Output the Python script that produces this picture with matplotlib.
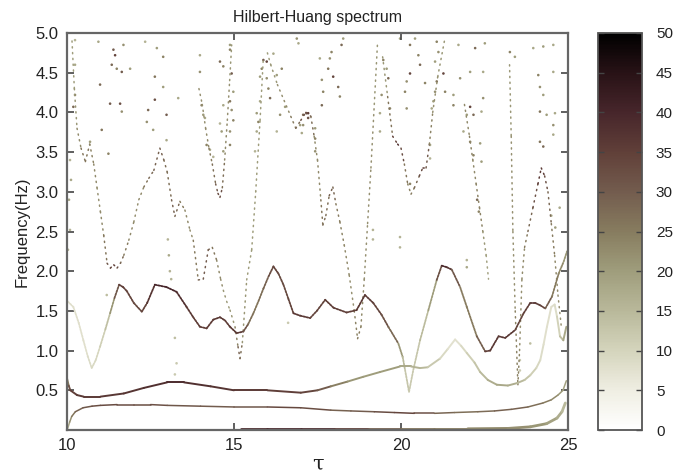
import numpy as np
import matplotlib
matplotlib.use("Agg")
import matplotlib.pyplot as plt
from matplotlib.collections import LineCollection
from matplotlib.colors import LinearSegmentedColormap, Normalize
from matplotlib.cm import ScalarMappable

plt.rcParams['font.family'] = ['Liberation Sans', 'DejaVu Sans']

# ---------------- data: instantaneous frequency tracks (tau, Hz, amplitude) ----------------
# lowest component (sits on the floor)
c1_tau = [15.2, 16.0, 17.0, 18.0, 19.0, 20.0, 21.0, 22.0, 23.2, 23.87, 24.36, 24.67, 24.82, 24.92]
c1_freq = [0.015, 0.015, 0.015, 0.015, 0.015, 0.015, 0.015, 0.015, 0.02, 0.04, 0.08, 0.15, 0.23, 0.34]
c1_amp = [38, 40, 40, 38, 32, 26, 26, 24, 22, 22, 20, 18, 16, 14]

# ~0.3 Hz component
c2_tau = [10.02, 10.08, 10.14, 10.25, 10.48, 10.75, 11.0, 11.5, 12.0, 12.5, 13.0, 14.0, 15.0, 16.0,
          17.0, 17.9, 18.5, 19.2, 19.8, 20.4, 21.0, 21.6, 22.3, 22.8, 23.3, 23.8, 24.25, 24.5, 24.7,
          24.85, 24.95]
c2_freq = [0.02, 0.1, 0.17, 0.23, 0.28, 0.3, 0.31, 0.32, 0.32, 0.32, 0.31, 0.3, 0.29, 0.29, 0.28,
           0.25, 0.24, 0.23, 0.22, 0.21, 0.21, 0.22, 0.23, 0.24, 0.26, 0.29, 0.34, 0.38, 0.44, 0.5, 0.62]
c2_amp = [16, 20, 24, 28, 30, 32, 33, 33, 33, 32, 32, 30, 30, 32, 35, 30, 28, 32, 34, 34, 30, 27,
          27, 28, 30, 28, 26, 24, 22, 20, 18]

# ~0.5 Hz component
c3_tau = [10.0, 10.05, 10.1, 10.3, 10.5, 11.0, 11.7, 12.3, 13.0, 13.5, 14.3, 15.0, 16.0, 17.0,
          17.5, 17.9, 18.4, 18.87, 19.37, 19.97, 20.3, 20.57, 20.8, 21.17, 21.4, 21.62, 21.8, 21.97,
          22.2, 22.37, 22.6, 22.87, 23.2, 23.47, 23.7, 23.87, 24.05, 24.17, 24.27, 24.37, 24.5,
          24.6, 24.67, 24.76, 24.86, 24.95]
c3_freq = [0.65, 0.56, 0.5, 0.44, 0.42, 0.42, 0.46, 0.53, 0.6, 0.6, 0.55, 0.5, 0.5, 0.47, 0.5,
           0.55, 0.61, 0.67, 0.73, 0.8, 0.8, 0.78, 0.79, 0.9, 1.02, 1.14, 1.06, 0.97, 0.85, 0.73,
           0.63, 0.57, 0.56, 0.59, 0.63, 0.69, 0.78, 0.88, 1.08, 1.3, 1.55, 1.58, 1.43, 1.18,
           1.13, 1.3]
c3_amp = [20, 30, 34, 36, 36, 36, 37, 37, 39, 39, 37, 37, 35, 35, 33, 27, 22, 20, 20, 20, 16, 16,
          14, 10, 8, 7, 8, 10, 12, 14, 16, 18, 18, 16, 14, 12, 10, 9, 8, 8, 8, 8, 9, 12, 16, 20]

# ~1.5 Hz component
c4_tau = [10.02, 10.19, 10.35, 10.49, 10.62, 10.74, 10.86, 10.99, 11.15, 11.29,
          11.42, 11.56, 11.68, 11.79, 12.0, 12.24, 12.4, 12.63, 12.98, 13.28,
          13.58, 13.78, 13.98, 14.18, 14.38, 14.58, 14.73, 14.88, 15.08, 15.28,
          15.42, 15.58, 15.73, 15.88, 16.03, 16.18, 16.33, 16.48, 16.63, 16.78,
          16.98, 17.28, 17.48, 17.73, 17.98, 18.37, 18.67, 18.92, 19.17, 19.42,
          19.62, 19.92, 20.05, 20.12, 20.24, 20.37, 20.57, 20.82, 21.07, 21.22,
          21.37, 21.52, 21.77, 21.97, 22.27, 22.52, 22.67, 22.92, 23.12, 23.42,
          23.67, 23.87, 24.02, 24.17, 24.32, 24.52, 24.72, 24.87, 24.97]
c4_freq = [1.62, 1.55, 1.35, 1.13, 0.93, 0.78, 0.88, 1.05, 1.27, 1.47,
           1.66, 1.83, 1.8, 1.75, 1.6, 1.49, 1.6, 1.83, 1.8, 1.74,
           1.55, 1.42, 1.3, 1.28, 1.39, 1.42, 1.38, 1.3, 1.22, 1.24,
           1.33, 1.47, 1.62, 1.78, 1.93, 2.06, 1.97, 1.83, 1.65, 1.47,
           1.44, 1.41, 1.5, 1.64, 1.54, 1.48, 1.51, 1.7, 1.6, 1.45,
           1.3, 1.09, 0.92, 0.76, 0.48, 0.76, 1.13, 1.51, 1.89, 2.07,
           2.05, 2.02, 1.8, 1.55, 1.18, 0.99, 1.0, 1.18, 1.16, 1.26,
           1.47, 1.6, 1.6, 1.57, 1.53, 1.68, 1.97, 2.12, 2.25]
c4_amp = [8, 8, 8, 8, 8, 9, 9, 10, 12, 16,
          26, 35, 35, 35, 33, 33, 35, 39, 41, 39,
          37, 35, 35, 35, 35, 37, 35, 35, 37, 35,
          28, 26, 26, 28, 30, 35, 33, 33, 33, 35,
          37, 35, 33, 35, 35, 35, 35, 37, 35, 33,
          30, 26, 16, 13, 12, 12, 13, 16, 24, 39,
          39, 35, 26, 24, 26, 33, 37, 35, 37, 35,
          33, 37, 37, 35, 33, 26, 24, 22, 20]

# upper, fast-varying components (dotted traces)
u1_tau = [10.15, 10.22, 10.3, 10.42, 10.55, 10.68, 10.8, 10.9, 11.0, 11.1,
          11.2, 11.3, 11.4, 11.5, 11.6, 11.7, 11.85, 12.0, 12.15, 12.3,
          12.45, 12.6, 12.78, 12.9, 13.0, 13.13, 13.23, 13.38, 13.53, 13.68,
          13.78, 13.93, 14.08, 14.23, 14.35, 14.48, 14.6, 14.68, 14.78, 14.88,
          15.03, 15.12, 15.18, 15.25, 15.38, 15.53, 15.65, 15.78, 15.88]
u1_freq = [4.9, 4.3, 3.8, 3.55, 3.38, 3.6, 3.35, 3.05, 2.75, 2.45,
           2.1, 2.04, 2.08, 2.04, 2.1, 2.2, 2.39, 2.62, 2.9, 3.06,
           3.17, 3.27, 3.55, 3.4, 3.25, 2.9, 2.69, 2.88, 2.77, 2.52,
           2.39, 1.89, 1.9, 2.27, 2.3, 2.14, 1.9, 1.76, 1.62, 1.51,
           1.3, 1.05, 0.9, 1.1, 1.89, 2.27, 3.0, 3.9, 4.7]
u1_amp = [20, 20, 22, 24, 28, 24, 24, 22, 22, 24,
          28, 34, 34, 36, 30, 26, 24, 22, 22, 24,
          28, 28, 30, 28, 26, 28, 30, 26, 24, 22,
          22, 28, 30, 30, 28, 24, 22, 22, 20, 20,
          22, 26, 32, 22, 20, 20, 20, 20, 20]

u2_tau = [16.0, 16.1, 16.3, 16.5, 16.7, 16.85, 17.0, 17.15, 17.3, 17.4, 17.5, 17.6, 17.66, 17.75,
          17.85, 17.96, 18.05, 18.17, 18.3, 18.45, 18.6, 18.7, 18.8, 18.9, 19.0, 19.1, 19.2, 19.3]
u2_freq = [4.75, 4.6, 4.35, 4.15, 3.95, 3.8, 3.9, 4.0, 3.95, 3.7, 3.4, 2.9, 2.58, 2.7,
           2.95, 3.06, 2.85, 2.62, 2.33, 1.95, 1.5, 1.15, 1.3, 1.9, 2.6, 3.3, 4.1, 4.9]
u2_amp = [20, 20, 22, 22, 24, 26, 30, 34, 30, 24, 22, 24, 28, 26,
          28, 30, 26, 24, 24, 22, 22, 26, 24, 22, 22, 22, 22, 20]

u3_tau = [19.45, 19.6, 19.75, 19.9, 20.0, 20.1, 20.2, 20.3, 20.4, 20.55, 20.65, 20.75, 20.85,
          20.95, 21.1, 21.3]
u3_freq = [4.7, 4.2, 3.7, 3.6, 3.55, 3.35, 3.1, 2.97, 3.05, 3.2, 3.3, 3.3, 3.6, 4.0, 4.45, 4.9]
u3_amp = [20, 22, 30, 38, 38, 28, 24, 24, 26, 30, 36, 34, 26, 22, 22, 20]

u4_tau = [21.9, 22.05, 22.15, 22.25, 22.35, 22.45, 22.55, 22.62]
u4_freq = [4.1, 3.7, 3.4, 3.1, 2.8, 2.5, 2.2, 1.9]
u4_amp = [22, 24, 24, 22, 26, 22, 20, 18]

u5_tau = [23.25, 23.3, 23.35, 23.42, 23.5, 23.55, 23.62, 23.7, 23.8, 23.95, 24.1, 24.2, 24.3,
          24.4, 24.5, 24.6, 24.7, 24.8]
u5_freq = [4.6, 3.7, 2.5, 1.5, 0.57, 1.0, 1.9, 2.3, 2.5, 2.8, 3.1, 3.3, 3.2, 3.0, 2.6, 2.2, 1.7, 1.3]
u5_amp = [20, 22, 22, 22, 26, 22, 22, 24, 26, 30, 34, 38, 34, 30, 26, 24, 22, 22]

u6_tau = [13.95, 14.05, 14.15, 14.25, 14.35, 14.45, 14.52, 14.58, 14.65, 14.72, 14.8, 14.87, 14.93]
u6_freq = [4.3, 4.1, 3.8, 3.55, 3.35, 3.1, 2.98, 2.93, 3.05, 3.4, 3.9, 4.4, 4.85]
u6_amp = [22, 22, 22, 24, 26, 28, 32, 34, 30, 24, 22, 22, 20]

# isolated spectral points
pts_tau = [10.24, 10.94, 11.39, 11.69, 11.44, 11.34, 11.49, 11.64, 11.89, 12.34, 12.69, 12.88,
           12.63, 12.88, 10.99, 11.29, 11.59, 11.64, 12.63, 12.43, 12.39, 12.58, 12.98, 13.33,
           11.04, 10.69, 11.24, 12.98, 10.24, 10.19, 10.24,
           14.88, 14.88, 14.58, 14.68, 14.93, 13.98, 13.98, 15.88, 15.98, 15.83, 15.78, 15.98,
           16.28, 16.43, 16.18, 16.03, 16.08, 15.78, 14.98, 14.88, 14.68, 14.93, 14.03, 14.08,
           14.13, 14.58, 14.98, 14.63, 14.88, 15.68, 15.73, 15.68, 16.28, 16.38, 16.53, 17.07,
           17.22, 16.98, 17.03, 14.18, 14.28, 14.38, 14.68, 14.88, 16.88, 16.93, 15.63,
           18.27, 18.22, 17.92, 17.87, 17.82, 17.97, 18.12, 18.17, 17.63, 17.67, 17.63, 17.57,
           17.17, 17.22, 17.07, 17.43, 17.43, 17.43, 19.47, 19.57, 19.62, 19.42, 19.67, 19.37,
           20.27, 20.42, 20.52, 20.57, 20.27, 20.17, 20.12, 20.17, 19.37, 19.97,
           21.07, 21.12, 21.02, 21.27, 21.07, 21.02, 20.97, 20.92, 21.32, 21.57, 21.77, 22.07,
           22.46, 22.22, 22.51, 21.72, 21.57, 22.07, 22.17, 21.97, 22.46, 22.41, 23.26, 23.41,
           23.96, 24.26, 24.56, 24.11, 24.16, 24.26, 24.56, 24.16, 24.36, 24.61, 24.56, 24.56,
           22.07, 22.37, 22.17, 22.41, 24.16, 24.26, 20.87, 20.87, 21.87, 20.72,
           10.03, 10.09, 10.06, 10.12, 10.09, 13.02, 13.05, 13.08, 13.12, 13.23, 13.28, 13.23,
           11.19, 16.62, 21.97, 21.97, 23.87, 23.56, 23.56, 19.97, 19.97, 19.16, 19.16,
           22.28, 22.33, 20.27, 24.5, 24.62, 24.75]
pts_freq = [4.91, 4.89, 4.79, 4.85, 4.72, 4.6, 4.55, 4.51, 4.55, 4.89, 4.81, 4.7,
            4.45, 4.32, 4.35, 4.11, 4.11, 4.01, 4.16, 4.03, 3.88, 3.78, 3.97, 4.18,
            3.78, 3.63, 3.48, 3.65, 4.22, 4.07, 4.6,
            4.85, 4.79, 4.64, 4.58, 4.49, 4.72, 4.51, 4.66, 4.64, 4.55, 4.45, 4.43,
            4.47, 4.55, 4.74, 4.3, 4.18, 4.14, 4.26, 4.14, 4.09, 4.03, 4.09, 3.97,
            3.93, 3.86, 3.9, 3.76, 3.76, 3.99, 3.88, 3.76, 3.76, 3.97, 4.07, 3.97,
            3.99, 3.84, 3.74, 3.59, 3.53, 3.44, 3.51, 3.59, 4.93, 4.87, 3.51,
            4.93, 4.85, 4.76, 4.68, 4.55, 4.45, 4.32, 4.2, 4.41, 4.26, 4.09, 4.68,
            3.99, 3.93, 3.84, 3.8, 3.67, 3.51, 4.66, 4.55, 4.43, 4.22, 4.05, 3.99,
            4.85, 4.93, 4.72, 4.6, 4.49, 4.39, 4.26, 4.05, 3.76, 4.93,
            4.89, 4.76, 4.64, 4.49, 4.39, 4.26, 4.14, 4.05, 4.26, 4.22, 4.43, 4.51,
            4.51, 4.81, 4.87, 4.85, 4.09, 4.07, 3.97, 3.97, 4.18, 4.01, 4.76, 4.7,
            4.81, 4.83, 4.85, 4.47, 4.32, 4.22, 4.51, 4.01, 3.97, 3.99, 3.84, 3.72,
            3.63, 3.61, 3.46, 3.38, 3.63, 3.57, 3.59, 3.42, 3.76, 4.37,
            2.27, 2.52, 2.9, 3.15, 3.4, 2.4, 2.2, 2.0, 1.9, 1.16, 0.84, 0.7,
            1.7, 1.35, 2.05, 2.14, 1.09, 0.75, 0.88, 2.3, 2.43, 2.4, 2.52,
            2.9, 2.75, 3.1, 2.7, 2.55, 2.8]
pts_amp = [16, 18, 30, 22, 34, 28, 24, 30, 20, 16, 20, 24,
           26, 20, 28, 30, 32, 22, 32, 28, 22, 20, 30, 18,
           26, 20, 24, 18, 24, 28, 18,
           20, 24, 28, 24, 30, 18, 22, 30, 34, 24, 20, 22,
           20, 24, 18, 24, 28, 18, 20, 26, 18, 22, 24, 20,
           18, 16, 24, 20, 22, 20, 24, 18, 16, 22, 20, 28,
           36, 20, 18, 24, 18, 16, 20, 24, 22, 18, 16,
           20, 28, 24, 22, 26, 34, 28, 24, 22, 24, 28, 18,
           34, 32, 22, 20, 24, 22, 24, 20, 28, 22, 24, 18,
           26, 20, 24, 28, 34, 22, 24, 22, 18, 18,
           24, 22, 20, 34, 26, 22, 20, 18, 24, 20, 22, 20,
           18, 28, 20, 18, 24, 34, 28, 20, 22, 18, 24, 20,
           18, 20, 18, 24, 22, 20, 18, 26, 20, 18, 22, 18,
           24, 20, 24, 20, 26, 28, 18, 16, 18, 24,
           16, 16, 18, 18, 16, 16, 18, 16, 16, 14, 12, 12,
           14, 12, 18, 16, 14, 12, 12, 16, 16, 16, 16,
           28, 24, 24, 18, 20, 18]

cbar_ticks = [0, 5, 10, 15, 20, 25, 30, 35, 40, 45, 50]
y_ticks = [0.5, 1.0, 1.5, 2.0, 2.5, 3.0, 3.5, 4.0, 4.5, 5.0]
x_ticks = [10, 15, 20, 25]

# ---------------- colour scale: white -> khaki -> brown -> black ----------------
cmap = LinearSegmentedColormap.from_list(
    "hht",
    [(0.0, "#ffffff"), (0.1, "#efeee2"), (0.2, "#d4d4bc"), (0.3, "#b8b89a"),
     (0.4, "#9f9d7c"), (0.5, "#877c5f"), (0.6, "#735c4e"), (0.7, "#614039"),
     (0.8, "#47262b"), (0.9, "#281216"), (1.0, "#000000")])
norm = Normalize(0, 50)

fig = plt.figure(figsize=(6.73, 4.76), dpi=100)
ax = fig.add_axes([67 / 673, 1 - 430 / 476, 501 / 673, 397 / 476])
cax = fig.add_axes([598 / 673, 1 - 430 / 476, 44 / 673, 397 / 476])


def draw_track(tau, freq, amp, lw, ls="solid"):
    pts = np.column_stack([tau, freq])
    segs = np.stack([pts[:-1], pts[1:]], axis=1)
    a = np.asarray(amp, dtype=float)
    lc = LineCollection(segs, cmap=cmap, norm=norm, linewidths=lw,
                        linestyles=ls, capstyle="round")
    lc.set_array((a[:-1] + a[1:]) / 2)
    ax.add_collection(lc)


dotted = (0, (0.8, 3.0))
dense = (0, (1.0, 0.8))

for t, f, a in [(u1_tau, u1_freq, u1_amp), (u2_tau, u2_freq, u2_amp), (u3_tau, u3_freq, u3_amp),
                (u4_tau, u4_freq, u4_amp), (u5_tau, u5_freq, u5_amp), (u6_tau, u6_freq, u6_amp)]:
    draw_track(t, f, a, 1.1, dotted)

ax.scatter(pts_tau, pts_freq, c=pts_amp, cmap=cmap, norm=norm, s=3.5, linewidths=0)

draw_track(c4_tau, c4_freq, c4_amp, 1.3, dense)
draw_track(c3_tau, c3_freq, c3_amp, 1.4)
draw_track(c2_tau, c2_freq, c2_amp, 1.1)
draw_track(c1_tau, c1_freq, c1_amp, 2.0)

ax.set_xlim(10, 25)
ax.set_ylim(0, 5)
ax.set_xticks(x_ticks)
ax.set_yticks(y_ticks)
ax.set_yticklabels([f"{v:.1f}" for v in y_ticks])
ax.tick_params(direction="in", length=5, width=1.2, color="#444444",
               top=True, right=True, labelsize=12, labelcolor="#222222", pad=6)
for sp in ax.spines.values():
    sp.set_color("#666666")
    sp.set_linewidth(1.6)

ax.set_title("Hilbert-Huang spectrum", fontsize=11.5, pad=8, color="#222222")
ax.set_ylabel("Frequency(Hz)", fontsize=12, color="#222222", labelpad=4)
ax.set_xlabel("τ", fontsize=15, family="DejaVu Serif", color="#222222", labelpad=1)

cb = fig.colorbar(ScalarMappable(norm=norm, cmap=cmap), cax=cax, ticks=cbar_ticks)
cb.outline.set_edgecolor("#555555")
cb.outline.set_linewidth(1.3)
cax.tick_params(direction="in", length=4, width=1.0, color="#444444",
                left=True, right=True, labelsize=11, labelcolor="#222222", pad=10)

fig.savefig("out.png", dpi=100)
